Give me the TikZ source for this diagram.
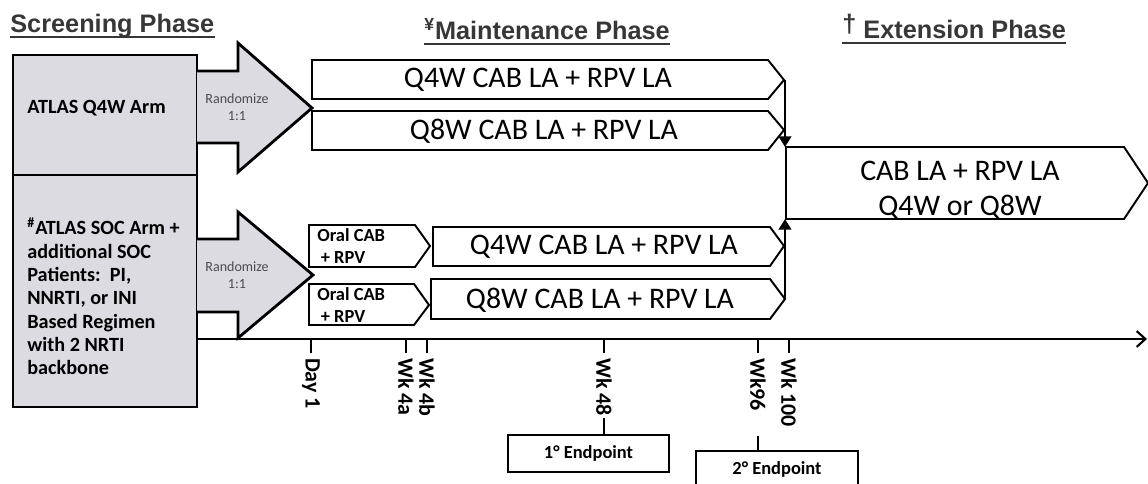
\documentclass[tikz,border=0pt]{standalone}
\usepackage{fontspec}
\setmainfont{Carlito}
\newfontfamily\hdrfont{Liberation Sans}
\usepackage{tikz}
\usetikzlibrary{calc,arrows.meta}
\definecolor{armgray}{RGB}{220,219,225}
\definecolor{hdrgray}{RGB}{55,55,55}

\begin{document}
\begin{tikzpicture}
[
	x=0.02cm, y=-0.02cm,
	armbox/.style = {draw, line width=1.6pt, fill=armgray},
	phasebox/.style = {draw, line width=1.1pt, fill=white},
	hdr/.style = {inner sep=0pt, anchor=base west, text=hdrgray, font=\hdrfont\bfseries\fontsize{14.4}{17}\selectfont},
	hdrline/.style = {hdrgray, line width=1.2pt},
	armtxt/.style = {inner sep=0pt, anchor=west, align=left, font=\bfseries\fontsize{11.5}{13.3}\selectfont},
	randtxt/.style = {inner sep=0pt, align=center, text=black!70, font=\fontsize{8}{9.7}\selectfont},
	oraltxt/.style = {inner sep=0pt, anchor=west, align=left, font=\bfseries\fontsize{10.5}{13}\selectfont},
	bigtxt/.style = {inner sep=0pt, align=center, font=\fontsize{17}{20}\selectfont},
	wklab/.style = {rotate=-90, anchor=west, inner sep=1pt, font=\bfseries\fontsize{12.5}{14}\selectfont},
	tickline/.style = {line width=1.1pt},
	endbox/.style = {draw, line width=1.1pt, minimum width=3.22cm, minimum height=0.74cm, font=\bfseries\fontsize{10.5}{12}\selectfont},
	link/.style = {line width=1.6pt, -{Triangle[length=6pt,width=7pt]}},
]
\useasboundingbox (0,0) rectangle (1148,483);
\clip (0,0) rectangle (1148,483);

% phase headers
\node[hdr] (scr) at (10,33) {Screening Phase};
\node[hdr] (mnt) at (424,40) {\textsuperscript{¥}Maintenance Phase};
\node[hdr] (exth) at (842,39) {\raisebox{3.5pt}{†} Extension Phase};
\foreach \h in {scr,mnt,exth}
\draw[hdrline] ($(\h.base west)+(0,4)$) -- ($(\h.base east)+(0,4)$);

% screening arms
\draw[armbox] (13,55) rectangle (197,175);
\draw[armbox] (13,175) rectangle (197,407);
\node[armtxt] (q4arm) at (27,108) {ATLAS Q4W Arm};
\node[armtxt, anchor=north west] (socarm) at (27,217) {\textsuperscript{\#}ATLAS SOC Arm +\\additional SOC\\Patients:\ \ PI,\\NNRTI, or INI\\Based Regimen\\with 2 NRTI\\backbone};

\draw[armbox] (197,71) -- (238,71) -- (238,43) -- (312,108) -- (238,172) -- (238,143) -- (197,143);
\draw[armbox] (197,239) -- (238,239) -- (238,212) -- (313,275) -- (238,338) -- (238,312) -- (197,312);
\node[randtxt] (rnd1) at (237,107) {Randomize\\1:1};
\node[randtxt] (rnd2) at (237,275) {Randomize\\1:1};

% maintenance and extension
\draw[phasebox] (312,60) -- (768,60) -- (784,80) -- (768,99) -- (312,99) -- cycle;
\draw[phasebox] (312,111) -- (768,111) -- (784,130) -- (768,150) -- (312,150) -- cycle;
\draw[phasebox] (309,225) -- (415,225) -- (430,246) -- (415,267) -- (309,267) -- cycle;
\draw[phasebox] (309,284) -- (414,284) -- (429,305) -- (414,325) -- (309,325) -- cycle;
\draw[phasebox] (433,227) -- (770,227) -- (784,246) -- (770,266) -- (433,266) -- cycle;
\draw[phasebox] (431,279) -- (770,279) -- (785,299) -- (770,319) -- (431,319) -- cycle;
\draw[phasebox] (786,147) -- (1124,147) -- (1148,183) -- (1124,219) -- (786,219) -- cycle;

\node[bigtxt] (q4top) at (538,80) {Q4W CAB LA + RPV LA};
\node[bigtxt] (q8top) at (544,131) {Q8W CAB LA + RPV LA};
\node[bigtxt] (q4low) at (604,247) {Q4W CAB LA + RPV LA};
\node[bigtxt] (q8low) at (600,300) {Q8W CAB LA + RPV LA};
\node[bigtxt] (ext) at (960,190) {CAB LA + RPV LA\\Q4W or Q8W};
\node[oraltxt] (oral1) at (317,246) {Oral CAB\\\hspace{2pt}+ RPV};
\node[oraltxt] (oral2) at (317,305) {Oral CAB\\\hspace{2pt}+ RPV};

\coordinate (q4tip) at (785,80);
\coordinate (q8tip) at (785,299);
\coordinate (exttop) at (785,147);
\coordinate (extbot) at (785,219);
\draw[link] (q4tip) -- (exttop);
\draw[link] (q8tip) -- (extbot);

% timeline
\coordinate (t0) at (197,339);
\coordinate (t1) at (1147,339);
\draw[line width=1.2pt, -{Straight Barb[length=5pt,width=9pt]}] (t0) -- (t1);
\foreach \x/\lab/\nm in {311/Day 1/day1, 406/Wk 4a/wk4a, 427/Wk 4b/wk4b, 604/Wk 48/wk48, 758/Wk96/wk96, 789/Wk 100/wk100}
{
\draw[tickline] (\x,339) -- (\x,353);
\node[wklab] (\nm) at (\x,356) {\lab};
}

\node[endbox] (ep1) at (588.5,453.5) {1° Endpoint};
\node[endbox, minimum width=3.24cm, minimum height=0.72cm] (ep2) at (777,469) {2° Endpoint};
\draw[tickline] (wk48.east) -- (wk48.east |- ep1.north);
\draw[tickline] ([yshift=-0.46cm]wk96.east) -- (wk96.east |- ep2.north);
\end{tikzpicture}
\end{document}
